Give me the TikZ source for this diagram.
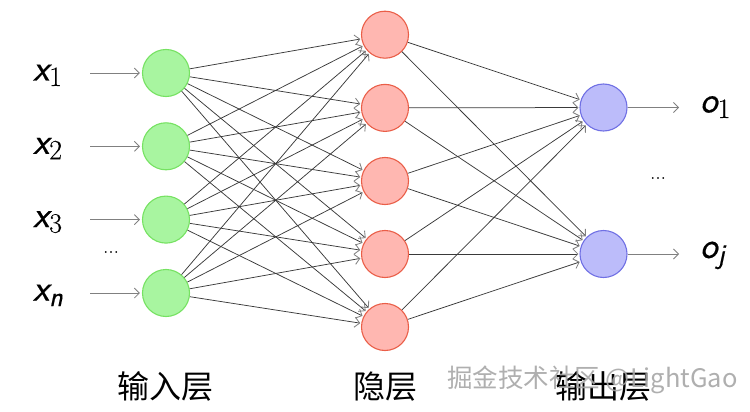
\documentclass[tikz,border=0pt]{standalone}
\usepackage{fontspec}
\newfontfamily\cjk{Noto Sans CJK SC}
\newfontfamily\varsf{Latin Modern Sans}[FakeBold=0.45]
\newfontfamily\varrm{Latin Modern Roman}[FakeBold=0.3]
\usetikzlibrary{arrows.meta}
\definecolor{ingreen}{RGB}{168,245,160}
\definecolor{ingreenb}{RGB}{118,226,98}
\definecolor{hidred}{RGB}{255,183,177}
\definecolor{hidredb}{RGB}{234,94,72}
\definecolor{outblue}{RGB}{188,188,250}
\definecolor{outblueb}{RGB}{112,112,228}
\definecolor{linedark}{RGB}{58,58,58}
\definecolor{tipgray}{RGB}{128,128,128}
\newcommand\subdig[1]{\raisebox{-5.5pt}{\fontsize{28}{28}\selectfont\varrm\upshape #1}}
\newcommand\subit[1]{\raisebox{-5.5pt}{\fontsize{28}{28}\selectfont\varsf\itshape #1}}
\begin{document}
\begin{tikzpicture}[x=1pt,y=-1pt,
  neuron/.style={circle,minimum size=47pt,inner sep=0pt,line width=1.1pt},
  innode/.style={neuron,fill=ingreen,draw=ingreenb},
  hidnode/.style={neuron,fill=hidred,draw=hidredb},
  outnode/.style={neuron,fill=outblue,draw=outblueb},
  conn/.style={draw=linedark,line width=0.75pt,shorten >=1pt,
    -{Straight Barb[length=5pt,width=10pt,color=tipgray,line width=0.85pt]}},
  feed/.style={draw=tipgray,line width=0.85pt,shorten >=2pt,
    -{Straight Barb[length=5pt,width=10pt,line width=0.85pt]}},
  varlbl/.style={font=\fontsize{37}{42}\selectfont\varsf\itshape,inner sep=0pt,anchor=base west},
  dotslbl/.style={font=\fontsize{21}{21}\selectfont\varrm,inner sep=0pt},
  layerlbl/.style={font=\cjk\fontsize{32}{36}\selectfont,inner sep=0pt},
  wmark/.style={font=\cjk\fontsize{25.5}{26}\selectfont,inner sep=0pt,anchor=west,text=gray!70,opacity=0.9}
]
\useasboundingbox (0,0) rectangle (750,412);
% input nodes
\node[innode] (i1) at (166,73) {};
\node[innode] (i2) at (166,146.3) {};
\node[innode] (i3) at (166,219.6) {};
\node[innode] (i4) at (166,293) {};
% hidden nodes
\node[hidnode] (h1) at (385,34.7) {};
\node[hidnode] (h2) at (385,107.9) {};
\node[hidnode] (h3) at (385,181) {};
\node[hidnode] (h4) at (385,254) {};
\node[hidnode] (h5) at (385,327) {};
% output nodes
\node[outnode] (o1) at (603.5,107.5) {};
\node[outnode] (o2) at (603.5,254) {};
% connections
\foreach \a in {1,...,4}{
  \foreach \b in {1,...,5}{
    \draw[conn] (i\a) -- (h\b);
  }
}
\foreach \a in {1,...,5}{
  \foreach \b in {1,2}{
    \draw[conn] (h\a) -- (o\b);
  }
}
% input feeds
\coordinate (s1) at (90,73);
\coordinate (s2) at (90,146.3);
\coordinate (s3) at (90,219.6);
\coordinate (s4) at (90,293);
\foreach \a in {1,...,4}{\draw[feed] (s\a) -- (i\a);}
% output feeds
\coordinate (e1) at (681,107.5);
\coordinate (e2) at (681,254);
\draw[feed] (o1) -- (e1);
\draw[feed] (o2) -- (e2);
% labels
\node[varlbl] (lx1) at (33,80.5) {x\subdig{1}};
\node[varlbl] (lx2) at (33,153.8) {x\subdig{2}};
\node[varlbl] (lx3) at (33,227.1) {x\subdig{3}};
\node[varlbl] (lxn) at (33,300.5) {x\subit{n}};
\node[dotslbl] (din) at (111,252) {...};
\node[varlbl] (lo1) at (700,112.5) {o\subdig{1}};
\node[varlbl] (loj) at (700,258) {o\subit{j}};
\node[dotslbl] (dout) at (658,178) {...};
% layer labels
\node[layerlbl] (L1) at (165,386) {输入层};
\node[layerlbl] (L2) at (385,387) {隐层};
\node[layerlbl] (L3) at (603,386) {输出层};
\node[wmark] (wm) at (447,380) {掘金技术社区 @LightGao};
\end{tikzpicture}
\end{document}
